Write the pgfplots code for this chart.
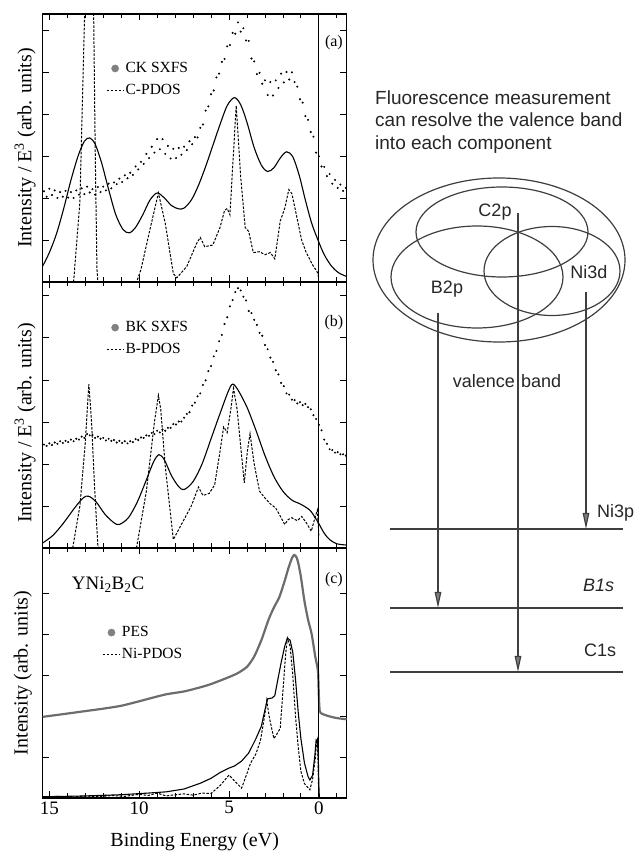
\documentclass[border=0pt]{standalone}
\usepackage{pgfplots}
\pgfplotsset{compat=1.18}
\usepackage{fontspec}
\setmainfont{Liberation Serif}
\newfontfamily\diagfont{Liberation Sans}
\usetikzlibrary{arrows.meta}

\definecolor{pesgray}{RGB}{108,108,108}
\definecolor{diagline}{RGB}{62,62,62}

\pgfplotsset{
  panel/.style={
    scale only axis, width=304bp,
    xmin=-1.55, xmax=15.37, x dir=reverse,
    ymin=0,
    xtick={0,5,10,15},
    minor xtick={-1,1,2,3,4,6,7,8,9,11,12,13,14},
    xtick pos=both, ytick pos=both,
    tick align=inside,
    major tick length=6.5bp, minor tick length=4.5bp,
    yticklabels={},
    every tick/.style={black, line width=0.8bp},
    axis line style={line width=1.1bp},
    /pgf/number format/assume math mode=true,
    xticklabel style={font=\fontsize{19bp}{22bp}\selectfont},
    every axis y label/.style={at={(axis description cs:-0.058,0.5)}, rotate=90, anchor=center,
      font=\fontsize{20bp}{24bp}\selectfont},
    legend style={draw=none, fill=none, inner sep=0pt, anchor=north west,
      font=\fontsize{15.5bp}{18bp}\selectfont, row sep=7bp,
      nodes={inner sep=1.5bp},
      /tikz/every even column/.append style={column sep=3.5bp}},
    legend cell align=left,
    unbounded coords=jump,
  },
  sxfs/.style={only marks, mark=*, mark size=0.8bp, black, forget plot},
  pdos/.style={black, line width=1bp, dash pattern=on 2.5bp off 1.5bp, forget plot},
  broad/.style={black, line width=1.1bp, smooth, tension=0.5, forget plot},
  zeroline/.style={black, line width=1bp, forget plot},
}
\tikzset{
  plabel/.style={font=\fontsize{16bp}{19bp}\selectfont},
  diag/.style={diagline, line width=1.2bp},
  darrow/.style={diag, -{Triangle[length=16bp, width=6.5bp, fill=gray]}},
}

\begin{document}
\begin{tikzpicture}
\useasboundingbox (0,0) rectangle (639bp,852bp);

% ---------------- (a) carbon ----------------
\begin{axis}[panel, at={(42.7bp,838bp)}, anchor=north west, height=268bp,
  ymax=6.38, ytick={1,2,3,4,5,6}, xticklabels={},
  ylabel={Intensity / E\textsuperscript{3} (arb. units)},
  legend style={at={(axis description cs:0.208,0.825)}}]
\addlegendimage{only marks, mark=*, mark size=3.6bp, color=gray}
\addlegendentry{CK SXFS}
\addlegendimage{black, line width=1bp, dash pattern=on 2.5bp off 1.5bp}
\addlegendentry{C-PDOS}
% CK soft x-ray emission
\addplot[sxfs] coordinates {
(15.3,2.16) (15.15,2.03) (15.0,2.22) (14.85,2.07) (14.7,2.18) (14.55,2.00) (14.4,2.14)
(14.25,2.03) (14.1,2.17) (13.95,2.01) (13.8,2.14) (13.65,2.00) (13.5,2.18) (13.35,2.08)
(13.2,2.23) (13.05,2.09) (12.9,2.27) (12.75,2.13) (12.6,2.21) (12.45,2.08) (12.3,2.26)
(12.15,2.14) (12.0,2.27) (11.85,2.18) (11.7,2.34) (11.55,2.23) (11.4,2.37) (11.25,2.33)
(11.1,2.46) (10.95,2.38) (10.8,2.54) (10.65,2.47) (10.5,2.60) (10.35,2.55) (10.2,2.75)
(10.05,2.68) (9.9,2.86) (9.75,2.81) (9.6,3.05) (9.45,2.95) (9.3,3.22) (9.15,3.08)
(9.0,3.40) (8.85,3.16) (8.7,3.40) (8.55,3.05) (8.4,3.24) (8.25,2.94) (8.1,3.17)
(7.95,2.95) (7.8,3.19) (7.65,3.03) (7.5,3.22) (7.35,3.14) (7.2,3.35) (7.05,3.28)
(6.9,3.45) (6.75,3.44) (6.6,3.67) (6.45,3.75) (6.3,4.08) (6.15,4.18) (6.0,4.47)
(5.85,4.56) (5.7,4.87) (5.55,4.96) (5.4,5.24) (5.25,5.31) (5.1,5.61) (4.95,5.64)
(4.8,5.93) (4.65,5.91) (4.5,6.18) (4.35,5.96) (4.2,6.04) (4.05,5.75) (3.9,5.74)
(3.75,5.32) (3.6,5.25) (3.45,4.95) (3.3,4.98) (3.15,4.72) (3.0,4.80) (2.85,4.45)
(2.7,4.76) (2.55,4.44) (2.4,4.80) (2.25,4.62) (2.1,4.96) (1.95,4.75) (1.8,5.00)
(1.65,4.82) (1.5,4.99) (1.35,4.76) (1.2,4.65) (1.05,4.35) (0.9,4.27) (0.75,3.95)
(0.6,3.86) (0.45,3.57) (0.3,3.46) (0.15,3.08) (0.0,2.99) (-0.15,2.75) (-0.3,2.74)
(-0.45,2.52) (-0.6,2.57) (-0.75,2.34) (-0.9,2.43) (-1.05,2.24) (-1.2,2.32) (-1.35,2.17)
(-1.5,2.24)};
% C partial DOS
\addplot[pdos] coordinates {
(13.65,0) (13.3,1.9) (13.0,7.0) (12.75,10) (12.55,7.0) (12.45,3.2) (12.35,0.3) (12.3,0)
(11.2,nan)
(10.1,0.05) (9.9,0.3) (9.4,1.25) (8.93,2.12) (8.55,1.4) (8.1,0.2) (7.9,0.1) (7.35,0.37)
(6.8,0.92) (6.6,1.06) (6.35,0.84) (5.9,0.88) (5.5,1.3) (5.25,1.7) (5.1,1.75) (4.95,1.6)
(4.6,4.2) (4.35,2.5) (4.1,1.3) (3.9,1.2) (3.65,0.7) (3.3,0.72) (3.0,0.65) (2.7,0.7)
(2.45,0.55) (2.15,1.45) (1.9,1.75) (1.67,2.2) (1.5,2.1) (1.3,1.7) (0.96,1.0) (0.7,0.7)
(0.3,0.37) (0.1,0.25) (0.0,0.1)};
% C partial DOS, broadened
\addplot[broad] coordinates {
(15.37,0.38) (15.0,0.70) (14.6,1.15) (14.2,1.75) (13.8,2.42) (13.4,3.0) (13.05,3.35)
(12.75,3.43) (12.45,3.28) (12.1,2.85) (11.7,2.2) (11.3,1.6) (10.9,1.25) (10.55,1.17)
(10.2,1.3) (9.8,1.6) (9.4,1.95) (9.0,2.12) (8.6,2.0) (8.2,1.82) (7.8,1.74) (7.5,1.76)
(7.1,1.95) (6.7,2.3) (6.3,2.75) (5.9,3.25) (5.5,3.75) (5.1,4.2) (4.7,4.39) (4.35,4.22)
(4.0,3.8) (3.6,3.2) (3.2,2.78) (2.85,2.63) (2.5,2.72) (2.15,2.95) (1.8,3.1) (1.45,2.98)
(1.1,2.55) (0.75,1.95) (0.4,1.4) (0.05,1.0) (-0.3,0.65) (-0.7,0.38) (-1.1,0.22)
(-1.55,0.13)};
\addplot[zeroline] coordinates {(0,0) (0,6.38)};
\node[plabel] at (axis description cs:0.958,0.892) {(a)};
\end{axis}

% ---------------- (b) boron ----------------
\begin{axis}[panel, at={(42.7bp,570bp)}, anchor=north west, height=266bp,
  ymax=6.33, ytick={1,2,3,4,5,6}, xticklabels={},
  ylabel={Intensity / E\textsuperscript{3} (arb. units)},
  every axis y label/.append style={at={(axis description cs:-0.058,0.47)}},
  legend style={at={(axis description cs:0.208,0.857)}}]
\addlegendimage{only marks, mark=*, mark size=3.6bp, color=gray}
\addlegendentry{BK SXFS}
\addlegendimage{black, line width=1bp, dash pattern=on 2.5bp off 1.5bp}
\addlegendentry{B-PDOS}
% BK soft x-ray emission
\addplot[sxfs] coordinates {
(15.3,2.46) (15.15,2.43) (15.0,2.49) (14.85,2.45) (14.7,2.51) (14.55,2.48) (14.4,2.54)
(14.25,2.50) (14.1,2.55) (13.95,2.52) (13.8,2.58) (13.65,2.54) (13.5,2.60) (13.35,2.58)
(13.2,2.65) (13.05,2.62) (12.9,2.71) (12.75,2.68) (12.6,2.69) (12.45,2.62) (12.3,2.65)
(12.15,2.60) (12.0,2.62) (11.85,2.56) (11.7,2.60) (11.55,2.55) (11.4,2.57) (11.25,2.51)
(11.1,2.55) (10.95,2.50) (10.8,2.54) (10.65,2.49) (10.5,2.54) (10.35,2.52) (10.2,2.59)
(10.05,2.57) (9.9,2.63) (9.75,2.62) (9.6,2.68) (9.45,2.67) (9.3,2.74) (9.15,2.71)
(9.0,2.79) (8.85,2.75) (8.7,2.82) (8.55,2.79) (8.4,2.86) (8.25,2.86) (8.1,2.95)
(7.95,2.94) (7.8,3.01) (7.65,3.01) (7.5,3.10) (7.35,3.19) (7.2,3.23) (7.05,3.39)
(6.9,3.46) (6.75,3.61) (6.6,3.68) (6.45,3.88) (6.3,3.99) (6.15,4.21) (6.0,4.33)
(5.85,4.56) (5.7,4.69) (5.55,4.92) (5.4,5.07) (5.25,5.33) (5.1,5.49) (4.95,5.75)
(4.8,5.90) (4.65,6.09) (4.5,6.18) (4.35,6.13) (4.2,5.98) (4.05,5.89) (3.9,5.64)
(3.75,5.59) (3.6,5.43) (3.45,5.31) (3.3,5.12) (3.15,5.05) (3.0,4.83) (2.85,4.73)
(2.7,4.53) (2.55,4.43) (2.4,4.23) (2.25,4.13) (2.1,3.93) (1.95,3.85) (1.8,3.68)
(1.65,3.65) (1.5,3.53) (1.35,3.52) (1.2,3.44) (1.05,3.47) (0.9,3.40) (0.75,3.43)
(0.6,3.35) (0.45,3.30) (0.3,3.16) (0.15,3.07) (0.0,2.93) (-0.15,2.80) (-0.3,2.58)
(-0.45,2.48) (-0.6,2.35) (-0.75,2.33) (-0.9,2.27) (-1.05,2.28) (-1.2,2.23) (-1.35,2.23)
(-1.5,2.20)};
% B partial DOS
\addplot[pdos] coordinates {
(13.7,0) (13.3,1.0) (13.0,2.5) (12.8,3.9) (12.65,3.0) (12.5,1.6) (12.3,0.05) (12.2,0)
(11.2,nan)
(10.15,0) (9.6,1.35) (9.15,3.0) (8.93,3.63) (8.8,3.3) (8.55,1.95) (8.1,0.2) (7.6,0.6)
(7.1,1.0) (6.7,1.45) (6.45,1.25) (6.1,1.3) (5.8,1.5) (5.5,2.3) (5.3,2.88) (5.1,2.75)
(4.9,3.3) (4.75,3.8) (4.55,3.3) (4.3,2.2) (4.15,1.55) (3.98,2.3) (3.83,2.72) (3.6,2.0)
(3.3,1.35) (3.0,1.19) (2.7,1.05) (2.4,0.95) (2.2,0.8) (1.9,0.56) (1.7,0.68) (1.5,0.72)
(1.2,0.65) (0.95,0.75) (0.7,0.6) (0.42,0.4) (0.2,0.75) (0.08,0.9) (0.0,0.3)};
% B partial DOS, broadened
\addplot[broad] coordinates {
(15.37,0.12) (14.8,0.3) (14.2,0.6) (13.6,0.95) (13.1,1.2) (12.8,1.23) (12.4,1.1)
(11.9,0.8) (11.4,0.6) (11.1,0.56) (10.6,0.72) (10.1,1.1) (9.6,1.62) (9.2,2.05)
(8.9,2.22) (8.6,2.1) (8.2,1.72) (7.8,1.46) (7.5,1.39) (7.0,1.58) (6.5,2.0) (6.0,2.6)
(5.5,3.2) (5.05,3.72) (4.8,3.9) (4.5,3.76) (4.0,3.35) (3.5,2.8) (3.0,2.2) (2.5,1.7)
(2.0,1.35) (1.5,1.14) (1.0,1.04) (0.5,0.9) (0.2,0.72) (0.0,0.58) (-0.3,0.35)
(-0.6,0.2) (-1.0,0.1) (-1.55,0.07)};
\addplot[zeroline] coordinates {(0,0) (0,6.33)};
\node[plabel] at (axis description cs:0.958,0.846) {(b)};
\end{axis}

% ---------------- (c) nickel / photoemission ----------------
\begin{axis}[panel, at={(42.7bp,304bp)}, anchor=north west, height=250bp,
  ymax=6.1, ytick={1,2,3,4,5},
  ylabel={Intensity (arb. units)},
  every axis y label/.append style={at={(axis description cs:-0.065,0.5)}},
  xlabel={Binding Energy (eV)},
  every axis x label/.style={at={(axis description cs:0.5,-0.176)}, anchor=center,
    font=\fontsize{20bp}{24bp}\selectfont},
  legend style={at={(axis description cs:0.196,0.692)}}]
\addlegendimage{only marks, mark=*, mark size=3.6bp, color=gray}
\addlegendentry{PES}
\addlegendimage{black, line width=1bp, dash pattern=on 2.5bp off 1.5bp}
\addlegendentry{Ni-PDOS}
% valence-band photoemission
\addplot[pesgray, line width=2.2bp, smooth, tension=0.4, forget plot] coordinates {
(15.37,1.98) (14.0,2.06) (13.0,2.12) (12.0,2.18) (11.0,2.25) (10.0,2.36) (9.4,2.43)
(8.5,2.53) (7.5,2.60) (6.6,2.70) (6.0,2.78) (5.0,2.95) (4.5,3.05) (4.0,3.20) (3.6,3.45)
(3.2,3.85) (2.8,4.35) (2.5,4.65) (2.2,4.90) (1.9,5.30) (1.7,5.60) (1.5,5.85) (1.37,5.93)
(1.25,5.88) (1.15,5.74) (1.0,5.40) (0.8,4.80) (0.6,4.35) (0.4,4.0) (0.2,3.45)
(0.05,3.1) (0.0,2.5) (-0.05,2.12) (-0.2,2.05) (-0.6,1.99) (-1.0,1.95) (-1.55,1.92)};
% Ni partial DOS
\addplot[pdos] coordinates {
(15.3,0.02) (14.5,0.04) (13.8,0.02) (13.0,0.05) (12.3,0.03) (11.5,0.06) (10.8,0.04)
(10.0,0.09) (9.5,0.06) (9.0,0.12) (8.5,0.05) (8.0,0.08) (7.5,0.10) (7.0,0.07) (6.5,0.12)
(6.0,0.11) (5.5,0.30) (5.0,0.56) (4.7,0.42) (4.3,0.24) (4.0,0.60) (3.8,0.85) (3.5,1.08)
(3.25,1.40) (3.0,2.05) (2.9,2.38) (2.75,1.95) (2.5,1.45) (2.35,1.55) (2.15,1.70)
(2.0,2.60) (1.85,3.50) (1.75,3.90) (1.6,3.70) (1.45,3.00) (1.3,2.00) (1.15,1.25)
(1.0,0.65) (0.8,0.35) (0.6,0.25) (0.5,0.20) (0.35,0.45) (0.2,0.95) (0.12,1.40)
(0.07,1.45) (0.03,0.5) (0.0,0.0)};
% Ni partial DOS, broadened
\addplot[black, line width=1.1bp, forget plot] coordinates {
(15.37,0.03) (13.0,0.05) (11.0,0.08) (9.5,0.12) (8.5,0.15) (7.5,0.22) (6.6,0.36)
(6.0,0.48) (5.5,0.62) (5.0,0.73) (4.7,0.78) (4.3,0.90) (3.9,1.10) (3.5,1.45) (3.2,1.75)
(3.0,2.15) (2.85,2.42) (2.6,2.44) (2.45,2.50) (2.3,2.85) (2.1,3.30) (1.9,3.70)
(1.75,3.90) (1.6,3.85) (1.45,3.55) (1.3,2.90) (1.15,2.10) (1.0,1.45) (0.8,0.85)
(0.6,0.52) (0.5,0.44) (0.35,0.55) (0.22,1.05) (0.15,1.42) (0.08,1.40) (0.03,1.0)
(0.0,0.3) (-0.03,0.0)};
\addplot[zeroline] coordinates {(0,0) (0,6.1)};
\node[plabel] at (axis description cs:0.958,0.872) {(c)};
\node[font=\fontsize{19bp}{22bp}\selectfont] at (axis description cs:0.215,0.852)
  {YNi\textsubscript{2}B\textsubscript{2}C};
\end{axis}

% ---------------- schematic of the emission process ----------------
\begin{axis}[at={(360bp,160bp)}, anchor=south west, scale only axis,
  width=279bp, height=620bp, xmin=360, xmax=639, ymin=160, ymax=780,
  hide axis, clip=false]
\begin{scope}[font=\diagfont\fontsize{19bp}{23bp}\selectfont, color=black!85]
\node[anchor=base west, inner sep=0pt] at (axis cs:375,747) {Fluorescence measurement};
\node[anchor=base west, inner sep=0pt] at (axis cs:375,725) {can resolve the valence band};
\node[anchor=base west, inner sep=0pt] at (axis cs:375,702) {into each component};
\end{scope}
% valence band and its components
\draw[diag] (axis cs:499,592) ellipse [x radius=126, y radius=82];
\draw[diag] (axis cs:502,620) ellipse [x radius=86, y radius=45];
\draw[diag] (axis cs:552,581) ellipse [x radius=68, y radius=44.5];
\draw[diag] (axis cs:477,575) ellipse [x radius=86, y radius=51];
\begin{scope}[font=\diagfont\fontsize{18bp}{21bp}\selectfont, color=black!85]
\node at (axis cs:495,640) {C2p};
\node at (axis cs:589,580) {Ni3d};
\node at (axis cs:447,563) {B2p};
\node[anchor=east, inner sep=0pt] at (axis cs:515,471) {valence};
\node[anchor=west, inner sep=0pt] at (axis cs:521,471) {band};
\node[anchor=west, inner sep=0pt] at (axis cs:597,339) {Ni3p};
\node[anchor=west, inner sep=0pt] at (axis cs:583,267) {\itshape B1s};
\node[anchor=west, inner sep=0pt] at (axis cs:584,202) {C1s};
\end{scope}
% core levels
\draw[diag] (axis cs:390,323) -- (axis cs:623,323);
\draw[diag] (axis cs:390,244) -- (axis cs:623,244);
\draw[diag] (axis cs:390,180) -- (axis cs:623,180);
% transitions
\draw[darrow] (axis cs:518,639) -- (axis cs:518,180);
\draw[darrow] (axis cs:586,560) -- (axis cs:586,323);
\draw[darrow] (axis cs:438,539) -- (axis cs:438,244);
\end{axis}
\end{tikzpicture}
\end{document}
